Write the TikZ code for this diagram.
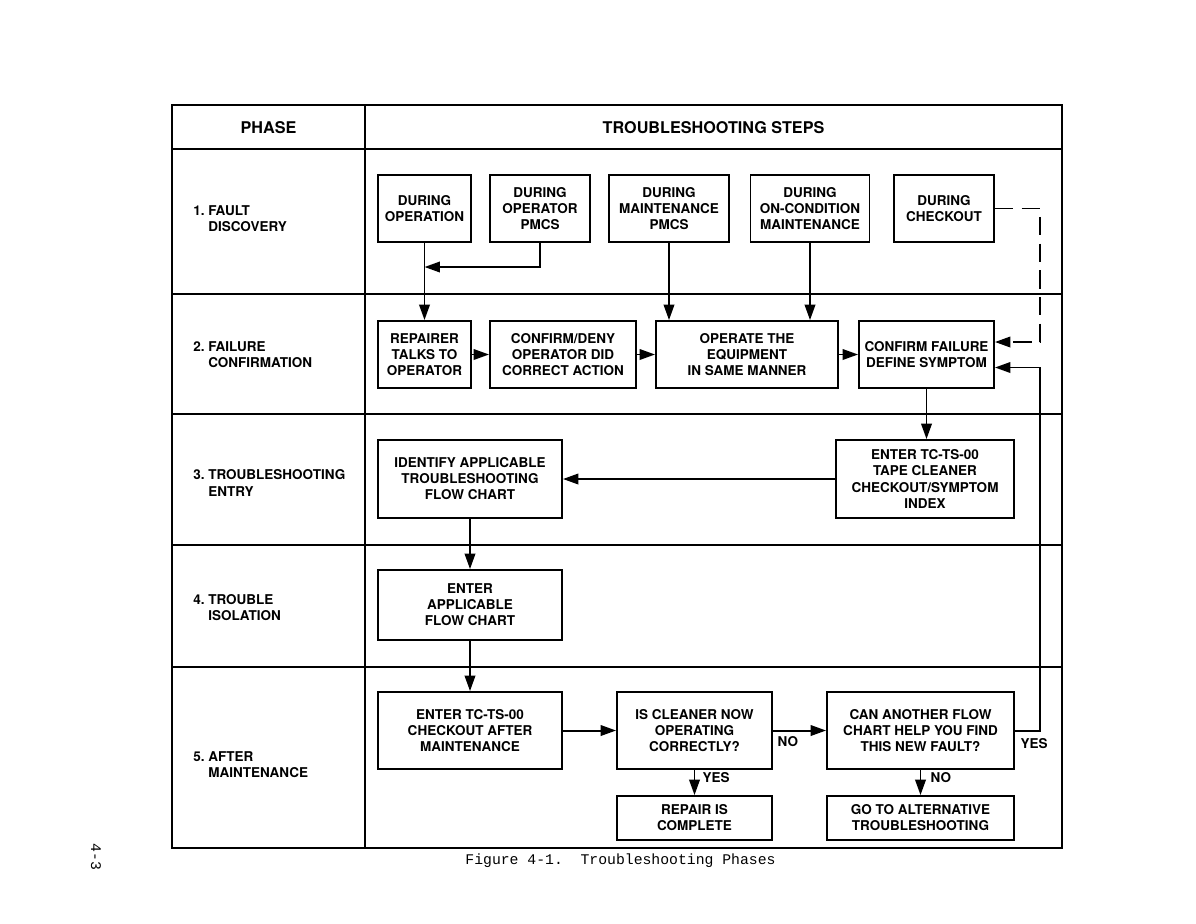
\documentclass[tikz,border=0pt]{standalone}
\usepackage{fontspec}
\setmainfont{TeX Gyre Heros}
\newfontfamily\capfont{Liberation Mono}
\usetikzlibrary{arrows.meta, positioning, calc}

\begin{document}
\begin{tikzpicture}[
  x=0.025cm, y=-0.025cm,
  tbox/.style  = {draw, line width=1.3pt, align=center, inner sep=1pt,
                  font=\fontsize{9.6}{11.4}\selectfont\bfseries,
                  minimum height=1.675cm},
  farr/.style  = {-{Triangle[length=11pt,width=7.5pt]}, line width=1.4pt},
  darr/.style  = {farr, dash pattern=on 13pt off 6pt},
  grid/.style  = {line width=1.3pt},
  phase/.style = {anchor=west, align=left, inner sep=0pt,
                  font=\fontsize{9.6}{11.4}\selectfont\bfseries},
  hdr/.style   = {font=\fontsize{11.5}{13}\selectfont\bfseries},
  lbl/.style   = {font=\fontsize{9.6}{11.4}\selectfont\bfseries, inner sep=1pt},
]
\useasboundingbox (0,0) rectangle (1196,923);

%% Table
\draw[grid] (172,105) rectangle (1062,848);
\draw[grid] (365,105) -- (365,848);
\foreach \yy in {149,294,414,545,667}
  \draw[grid] (172,\yy) -- (1062,\yy);

\node[hdr] (hphase) at (268.5,128) {PHASE};
\node[hdr] (hsteps) at (713.5,128) {TROUBLESHOOTING STEPS};

%% Phases
\node[phase] (p1) at (193,219) {1.\ FAULT\\\hphantom{1.\ }DISCOVERY};
\node[phase] (p2) at (193,355) {2.\ FAILURE\\\hphantom{2.\ }CONFIRMATION};
\node[phase] (p3) at (193,483) {3.\ TROUBLESHOOTING\\\hphantom{3.\ }ENTRY};
\node[phase] (p4) at (193,608) {4.\ TROUBLE\\\hphantom{4.\ }ISOLATION};
\node[phase] (p5) at (193,765) {5.\ AFTER\\\hphantom{5.\ }MAINTENANCE};

%% Fault discovery
\node[tbox, minimum width=2.325cm] (op)       at (424.5,208.5) {DURING\\OPERATION};
\node[tbox, minimum width=2.5cm]   (oppmcs)   at (540,208.5)   {DURING\\OPERATOR\\PMCS};
\node[tbox, minimum width=3.0cm]   (mpmcs)    at (669,208.5)   {DURING\\MAINTENANCE\\PMCS};
\node[tbox, minimum width=2.975cm] (oncond)   at (810,208.5)   {DURING\\ON-CONDITION\\MAINTENANCE};
\node[tbox, minimum width=2.5cm]   (checkout) at (944,208.5)   {DURING\\CHECKOUT};

%% Failure confirmation
\node[tbox, minimum width=2.325cm] (rep)     at (424.5,354.5) {REPAIRER\\TALKS TO\\OPERATOR};
\node[tbox, minimum width=3.65cm]  (cdeny)   at (563,354.5)   {CONFIRM/DENY\\OPERATOR DID\\CORRECT ACTION};
\node[tbox, minimum width=4.55cm]  (operate) at (747,354.5)   {OPERATE THE\\EQUIPMENT\\IN SAME MANNER};
\node[tbox, minimum width=3.375cm] (cfail)   at (926.5,354.5) {CONFIRM FAILURE\\DEFINE SYMPTOM};

%% Troubleshooting entry
\node[tbox, minimum width=4.6cm, minimum height=1.95cm]  (identify) at (470,479)
  {IDENTIFY APPLICABLE\\TROUBLESHOOTING\\FLOW CHART};
\node[tbox, minimum width=4.45cm, minimum height=1.95cm] (tcindex)  at (925,479)
  {ENTER TC-TS-00\\TAPE CLEANER\\CHECKOUT/SYMPTOM\\INDEX};

%% Trouble isolation
\node[tbox, minimum width=4.6cm, minimum height=1.75cm] (flowchart) at (470,605)
  {ENTER\\APPLICABLE\\FLOW CHART};

%% After maintenance
\node[tbox, minimum width=4.6cm, minimum height=1.925cm]   (entercheck) at (470,730.5)
  {ENTER TC-TS-00\\CHECKOUT AFTER\\MAINTENANCE};
\node[tbox, minimum width=3.875cm, minimum height=1.925cm] (cleaner)    at (694.5,730.5)
  {IS CLEANER NOW\\OPERATING\\CORRECTLY?};
\node[tbox, minimum width=4.675cm, minimum height=1.925cm] (another)    at (920.5,730.5)
  {CAN ANOTHER FLOW\\CHART HELP YOU FIND\\THIS NEW FAULT?};
\node[tbox, minimum width=3.875cm, minimum height=1.1cm]   (complete)   at (694.5,818)
  {REPAIR IS\\COMPLETE};
\node[tbox, minimum width=4.675cm, minimum height=1.1cm]   (alt)        at (920.5,818)
  {GO TO ALTERNATIVE\\TROUBLESHOOTING};

%% Connectors
\coordinate (joinop) at (424.5,267);
\coordinate (rail)   at (1040,0);
\coordinate (dashin) at ($(cfail.east)+(0,-12.5)$);
\coordinate (yesin)  at ($(cfail.east)+(0,13)$);

\draw[farr] (op) -- (rep);
\draw[farr] (oppmcs.south) |- (joinop);
\draw[farr] (mpmcs.south) -- (mpmcs.south |- operate.north);
\draw[farr] (oncond.south) -- (oncond.south |- operate.north);
\draw[darr] (checkout.east) -| (rail |- dashin) -- (dashin);

\draw[farr] (rep) -- (cdeny);
\draw[farr] (cdeny) -- (operate);
\draw[farr] (operate) -- (cfail);
\draw[farr] (cfail.south) -- (cfail.south |- tcindex.north);

\draw[farr] (tcindex) -- (identify);
\draw[farr] (identify) -- (flowchart);
\draw[farr] (flowchart) -- (entercheck);

\draw[farr] (entercheck) -- (cleaner);
\draw[farr] (cleaner) -- (another);
\draw[farr] (cleaner) -- (complete);
\draw[farr] (another) -- (alt);
\draw[farr] (another.east) -| (rail |- yesin) -- (yesin);

\node[lbl, anchor=west] (no1)  at (776,742)  {NO};
\node[lbl, anchor=west] (yes1) at (701,778)  {YES};
\node[lbl, anchor=west] (no2)  at (929,778)  {NO};
\node[lbl]              (yes2) at (1034,744) {YES};

%% Caption and page number
\node[font=\capfont\fontsize{10.5}{12}\selectfont] (cap) at (620.5,861)
  {Figure 4-1.\ \ Troubleshooting Phases};
\node[rotate=-90, font=\capfont\fontsize{10.5}{12}\selectfont] (pgno) at (96,857) {4-3};

\end{tikzpicture}
\end{document}
